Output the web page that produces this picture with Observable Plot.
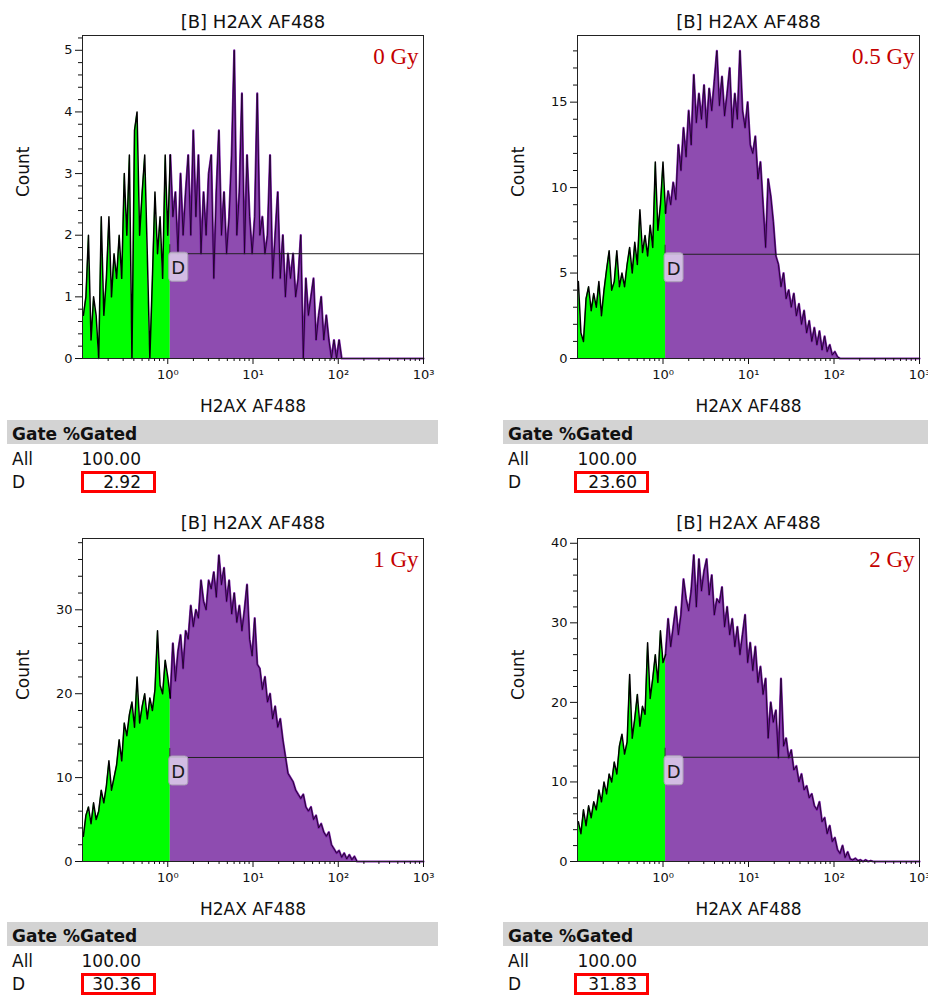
<!DOCTYPE html>
<html><head><meta charset="utf-8">
<script src="https://cdn.jsdelivr.net/npm/d3@7"></script>
<script src="https://cdn.jsdelivr.net/npm/@observablehq/plot@0.6"></script>
<style>
html,body{margin:0;padding:0;background:#fff;}
#root{position:relative;width:928px;height:996px;overflow:hidden;font-family:"DejaVu Sans",sans-serif;color:#111;}
.panel{position:absolute;}
.band{position:absolute;background:#d3d3d3;height:24px;}
.t{position:absolute;font-size:17px;line-height:20px;white-space:nowrap;}
.b{font-weight:bold;}
.r{text-align:right;}
.box{position:absolute;border:3px solid #f00;box-sizing:border-box;}
</style></head><body><div id="root"></div>
<script>
// ---- data ----
const panelTitle = "[B] H2AX AF488";
const xAxisLabel = "H2AX AF488";
const yAxisLabel = "Count";
const doses = ["0 Gy", "0.5 Gy", "1 Gy", "2 Gy"];
const gateNames = ["All", "D"];
const pctAll = ["100.00", "100.00", "100.00", "100.00"];
const pctD = ["2.92", "23.60", "30.36", "31.83"];
const gateX = Math.pow(10, 0.03);           // lower bound of gate D
const gateLevel = [1.7, 6.1, 12.4, 13.1];   // y level of gate marker line
const yMax = [5.24, 18.9, 38.5, 40.6];
const yMajor = [[0,1,2,3,4,5],[0,5,10,15],[0,10,20,30],[0,10,20,30,40]];
const yMinorStep = [0.2, 1, 2, 2];
const xTicks = [1, 10, 100, 1000];
const xTickLabels = ["10\u2070", "10\u00B9", "10\u00B2", "10\u00B3"];
const logStart = -0.99, logStep = 0.03;     // channel centres (log10 of H2AX AF488)

const counts0Gy = [
0.7,1.0,2.0,0.3,1.0,0.7,0.0, 2.3,0.7,1.3,2.3,1.0,1.7,1.3, 2.0,1.3,3.0,2.0,3.3,0.0,3.7,
4.0,2.0,2.7,3.3,1.7,0.0,1.3, 2.7,1.7,2.3,1.3,3.3,2.0, 3.3,
2.3,2.7,1.7,3.0,2.0,2.7, 3.3,2.0,3.7,2.3,3.3,1.7,2.7, 2.0,3.0,3.3,1.3,2.7,3.7,2.0,
2.7,1.7,2.3,3.3,5.0,2.0,2.7, 4.3,1.7,3.3,2.3,1.7,2.3,4.3, 2.0,2.3,1.7,2.0,3.3,1.3,2.0,
2.7,1.3,2.0,1.0,1.7,1.3,1.7, 1.0,1.3,2.0,0.0,1.3,0.7,1.0, 1.3,0.3,0.7,1.0,0.3,0.7,0.3,
0.0,0.3,0.0,0.3,0.0,0,0, 0,0,0,0,0,0,0,
0,0,0,0,0,0,0,0,0,0,0,0,0,0,0,0,0,0,0,0,0,0,0];
const counts05Gy = [
4.5,1.5,1.0,3.5,4.2,2.8,3.8, 3.0,4.5,2.5,4.0,5.2,6.3,4.0, 4.5,6.3,4.2,5.0,4.2,5.5,6.5,
5.0,6.8,5.5,8.7,6.2,7.2,6.0, 7.8,6.5,11.5,7.5,9.0,11.5, 8.5,
9.8,9.0,10.3,9.3,12.5,11.0, 13.5,11.8,14.5,12.5,16.6,13.8,15.5, 14.0,16.0,13.5,15.8,14.5,16.2,18.0,
14.8,16.5,14.2,15.5,17.0,13.5,15.5, 14.0,18.0,14.5,13.5,15.0,12.5,12.0, 13.0,10.5,11.5,9.0,6.5,10.5,9.5,
8.0,6.0,5.5,4.2,5.0,3.5,4.0, 3.0,3.8,2.5,3.2,2.0,2.8,1.5, 2.2,1.0,1.8,0.8,1.6,0.5,1.3,
0.4,0.8,0.2,0.4,0.1,0,0, 0,0,0,0,0,0,0,
0,0,0,0,0,0,0,0,0,0,0,0,0,0,0,0,0,0,0,0,0,0,0];
const counts1Gy = [
3.0,5.5,6.5,4.5,7.0,5.0,6.0, 8.5,7.0,9.0,12.0,8.5,10.0,11.5, 14.5,12.0,16.5,15.0,17.5,19.0,16.0,
22.0,16.5,18.5,20.0,17.0,19.5,18.0, 20.5,27.5,21.0,20.0,24.0,22.0, 19.5,
26.0,21.5,25.0,27.0,23.0,27.5, 26.5,30.5,28.0,30.0,29.0,33.5,31.0, 30.0,33.5,32.5,34.5,31.5,36.5,33.0,
35.0,31.0,33.5,29.5,32.0,28.5,30.5, 27.5,30.0,33.0,26.5,24.5,29.0,23.5, 23.0,20.5,22.0,19.0,20.0,17.0,18.5,
16.0,17.0,14.5,12.5,10.5,10.0,9.5, 8.5,8.0,7.5,8.0,6.5,6.0,6.5, 5.0,5.5,4.0,4.5,3.5,3.0,3.5,
2.0,1.5,1.0,1.3,0.5,1.0,0.3, 0.8,0.2,0.6,0,0,0,0,
0,0,0,0,0,0,0,0,0,0,0,0,0,0,0,0,0,0,0,0,0,0,0];
const counts2Gy = [
5.0,3.5,6.5,4.5,7.0,5.5,7.5, 6.5,9.0,7.5,10.0,8.5,11.0,10.0, 12.5,11.0,14.5,16.0,13.5,15.0,23.5,
15.5,18.0,21.0,17.0,19.5,18.5,27.5, 20.5,23.0,26.0,22.5,29.0,25.0, 26.0,
30.5,27.0,29.5,32.0,28.5,31.0, 35.5,33.0,31.5,34.0,38.5,32.0,38.0, 34.0,36.5,38.0,33.5,36.0,31.0,33.0,
32.5,34.5,29.5,32.0,28.5,30.5,27.0, 29.5,26.0,28.5,31.0,25.0,27.5,24.0, 27.0,22.5,24.5,21.0,23.0,15.5,20.0,
17.5,19.0,13.0,23.0,14.5,15.5,13.0, 14.0,11.5,12.0,10.0,11.0,9.0,9.5, 8.0,8.5,7.0,6.5,7.5,5.0,5.5,
3.5,4.5,2.5,3.0,1.5,1.0,2.0, 0.5,1.2,0.3,0.2,0.4,0.1,0.2,
0,0.2,0,0.1,0,0,0,0,0,0,0,0,0,0,0,0,0,0,0,0,0,0,0];
const seriesList = [counts0Gy, counts05Gy, counts1Gy, counts2Gy];

// ---- layout ----
const layout = [
  {left: 0,   top: 0,   mL: 82,  mR: 41, mT: 35, mB: 62},
  {left: 464, top: 0,   mL: 113, mR: 9,  mT: 35, mB: 62},
  {left: 0,   top: 500, mL: 82,  mR: 41, mT: 38, mB: 59},
  {left: 464, top: 500, mL: 113, mR: 9,  mT: 38, mB: 59}
];
const root = document.getElementById("root");
const xMinor = [0.1, 1, 10, 100].flatMap(b => d3.range(2, 10).map(m => b * m));
const labelMap = new Map(xTicks.map((t, i) => [t, xTickLabels[i]]));

seriesList.forEach((series, k) => {
  const L = layout[k];
  const data = series.map((c, i) => ({x: Math.pow(10, logStart + i * logStep), y: c}));
  const left = data.filter(d => d.x <= gateX * (1 + 1e-9));
  const right = data.filter(d => d.x >= gateX * (1 - 1e-9));
  const yMinor = d3.range(0, yMax[k] + 1e-9, yMinorStep[k]).filter(v => !yMajor[k].some(m => Math.abs(m - v) < 1e-9));
  const gy = gateLevel[k];
  const svg = Plot.plot({
    width: 464, height: 420,
    marginLeft: L.mL, marginRight: L.mR, marginTop: L.mT, marginBottom: L.mB,
    style: {fontFamily: "DejaVu Sans", fontSize: "13px", color: "#111", background: "transparent", overflow: "visible"},
    x: {type: "log", domain: [0.1, 1000]},
    y: {domain: [0, yMax[k]]},
    marks: [
      Plot.areaY(left, {x: "x", y: "y", fill: "#00ff00"}),
      Plot.areaY(right, {x: "x", y: "y", fill: "#8e4cb0"}),
      Plot.lineY(right, {x: "x", y: "y", stroke: "#7a1fa8", strokeWidth: 2.2}),
      Plot.lineY(right, {x: "x", y: "y", stroke: "#1c0226", strokeWidth: 0.9}),
      Plot.lineY(left, {x: "x", y: "y", stroke: "#000", strokeWidth: 1.5}),
      Plot.ruleY([gy], {x1: gateX, x2: 1000, stroke: "#222", strokeWidth: 1}),
      (index, scales) => {
        const gx = scales.x(gateX), py = scales.y(gy);
        const g = d3.create("svg:g");
        g.append("line").attr("x1", gx).attr("x2", gx).attr("y1", py - 9).attr("y2", py + 3).attr("stroke", "#333");
        g.append("rect").attr("x", gx - 1).attr("y", py - 1).attr("width", 19).attr("height", 29).attr("rx", 3)
          .attr("fill", "#ded0ec").attr("fill-opacity", 0.85).attr("stroke", "#a89cb4");
        g.append("text").attr("x", gx + 8.5).attr("y", py + 21).attr("text-anchor", "middle")
          .attr("font-size", 18).attr("fill", "#1a1a1a").text("D");
        return g.node();
      },
      Plot.frame({stroke: "#222", strokeWidth: 1}),
      Plot.axisY(yMajor[k], {tickSize: 7, tickPadding: 3, label: null, tickFormat: d => String(d), ariaLabel: "ymaj"}),
      Plot.axisY(yMinor, {tickSize: 4, tickFormat: () => "", label: null}),
      Plot.axisX(xTicks, {tickSize: 6, tickPadding: 5, tickFormat: d => labelMap.get(d), label: null, ariaLabel: "xmaj"}),
      Plot.axisX(xMinor, {tickSize: 3, tickFormat: () => "", label: null}),
      Plot.text([panelTitle], {text: d => d, frameAnchor: "top", lineAnchor: "bottom", dy: k < 2 ? -8 : -10, fontSize: 18, ariaLabel: "ptitle"}),
      Plot.text([xAxisLabel], {text: d => d, frameAnchor: "bottom", lineAnchor: "bottom", dy: 53, fontSize: 17, ariaLabel: "xlabel"}),
      Plot.text([yAxisLabel], {text: d => d, frameAnchor: "left", lineAnchor: "bottom", rotate: -90, dx: -54, fontSize: 17}),
      Plot.text([doses[k]], {text: d => d, frameAnchor: "top-right", textAnchor: "end", lineAnchor: "bottom", dx: -5, dy: 28,
        fontFamily: "Liberation Serif", fontSize: 23, fill: "#c40000"})
    ]
  });
  const s = d3.select(svg);
  s.selectAll('g[aria-label="ptitle"] text').attr("letter-spacing", "0.3px");
  s.selectAll('g[aria-label="xlabel"] text').attr("letter-spacing", "0.6px");
  s.selectAll('[aria-label^="x-axis tick label"], g[aria-label="xmaj"] text').attr("font-size", 14).style("font-size", "14px");
  s.selectAll('[aria-label^="y-axis tick label"], g[aria-label="ymaj"] text').attr("font-size", 13.5).style("font-size", "13.5px");
  const div = document.createElement("div");
  div.className = "panel";
  div.style.left = L.left + "px";
  div.style.top = L.top + "px";
  div.appendChild(svg);
  root.appendChild(div);

  // statistics table
  const tx = k % 2 === 0 ? 12 : 508;
  const bandL = k % 2 === 0 ? 7 : 503;
  const bandW = k % 2 === 0 ? 431 : 425;
  const ty = k < 2 ? 420 : 922;
  const valR = k % 2 === 0 ? 141 : 637;
  const boxL = k % 2 === 0 ? 81 : 574;
  const html = `
    <div class="band" style="left:${bandL}px;top:${ty}px;width:${bandW}px;"></div>
    <div class="t b" style="left:${tx}px;top:${ty + 4}px;">Gate %Gated</div>
    <div class="t" style="left:${tx}px;top:${ty + 29}px;">${gateNames[0]}</div>
    <div class="t r" style="left:${valR - 90}px;width:90px;top:${ty + 29}px;">${pctAll[k]}</div>
    <div class="t" style="left:${tx}px;top:${ty + 52}px;">${gateNames[1]}</div>
    <div class="t r" style="left:${valR - 90}px;width:90px;top:${ty + 52}px;">${pctD[k]}</div>
    <div class="box" style="left:${boxL}px;top:${ty + 51}px;width:75px;height:22px;"></div>`;
  root.insertAdjacentHTML("beforeend", html);
});
</script></body></html>
